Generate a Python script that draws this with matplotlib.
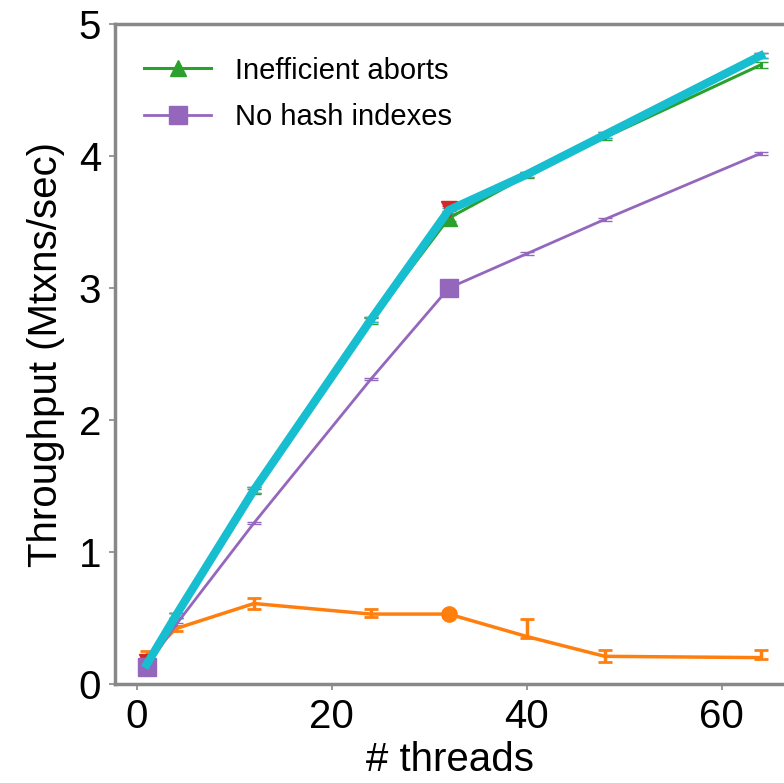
import matplotlib
matplotlib.use('Agg')
import matplotlib.pyplot as plt
from matplotlib.lines import Line2D

plt.rcParams['font.family'] = ['Liberation Sans', 'DejaVu Sans']

threads = [1, 4, 12, 24, 32, 40, 48, 64]

cyan_tput = [0.15, 0.52, 1.47, 2.76, 3.59, 3.86, 4.16, 4.76]
cyan_err = [0.02, 0.02, 0.02, 0.02, 0.02, 0.02, 0.02, 0.02]

green_tput = [0.15, 0.52, 1.46, 2.75, 3.53, 3.85, 4.14, 4.69]
green_err = [0.02, 0.02, 0.02, 0.02, 0.02, 0.02, 0.02, 0.02]

red_tput = [0.17, 0.52, 1.47, 2.76, 3.60, 3.86, 4.16, 4.76]
red_err = [0.02, 0.02, 0.02, 0.02, 0.02, 0.02, 0.02, 0.02]

purple_tput = [0.13, 0.45, 1.22, 2.31, 3.00, 3.26, 3.52, 4.02]
purple_err = [0.01, 0.01, 0.01, 0.01, 0.01, 0.01, 0.01, 0.01]

orange_tput = [0.20, 0.42, 0.61, 0.53, 0.53, 0.36, 0.21, 0.20]
orange_lo = [0.02, 0.02, 0.04, 0.02, 0.02, 0.01, 0.04, 0.01]
orange_hi = [0.05, 0.02, 0.04, 0.04, 0.02, 0.13, 0.05, 0.06]

fig = plt.figure(figsize=(7.84, 7.83), dpi=100)
ax = fig.add_axes([0.1467, 0.1264, 0.8533, 0.8429])

ax.errorbar(threads, orange_tput, yerr=[orange_lo, orange_hi], color='#ff7f0e',
            lw=2.5, capsize=5, capthick=2, marker='o', markersize=11, markevery=[4])
ax.errorbar(threads, green_tput, yerr=green_err, color='#2ca02c', lw=2.2,
            capsize=5, marker='^', markersize=12, markevery=[4])
ax.errorbar(threads, red_tput, yerr=red_err, color='#d62728', lw=2.2,
            capsize=5, marker='v', markersize=12, markevery=[0, 4])
ax.errorbar(threads, purple_tput, yerr=purple_err, color='#9467bd', lw=2.0,
            capsize=5, marker='s', markersize=13, markevery=[0, 4])
ax.errorbar(threads, cyan_tput, yerr=cyan_err, color='#17becf', lw=6,
            capsize=5)

ax.set_xlim(-2.26, 66.4)
ax.set_ylim(0, 5)
ax.set_xticks([0, 20, 40, 60])
ax.set_yticks([0, 1, 2, 3, 4, 5])
ax.set_xlabel('# threads', fontsize=29, labelpad=4)
ax.set_ylabel('Throughput (Mtxns/sec)', fontsize=29, labelpad=10)
ax.tick_params(labelsize=29, length=4, width=1.2, color='#888888', pad=6)
for side in ['left', 'bottom', 'top']:
    ax.spines[side].set_color('#888888')
    ax.spines[side].set_linewidth(2.5)
ax.spines['right'].set_visible(False)

handles = [
    Line2D([], [], color='#2ca02c', lw=2.2, marker='^', markersize=12),
    Line2D([], [], color='#9467bd', lw=2.0, marker='s', markersize=13),
]
ax.legend(handles, ['Inefficient aborts', 'No hash indexes'], loc='upper left',
          frameon=False, fontsize=21, bbox_to_anchor=(0.0, 0.995),
          handlelength=2.3, borderaxespad=0.6, labelspacing=0.65)

fig.savefig('out.png', dpi=100)
